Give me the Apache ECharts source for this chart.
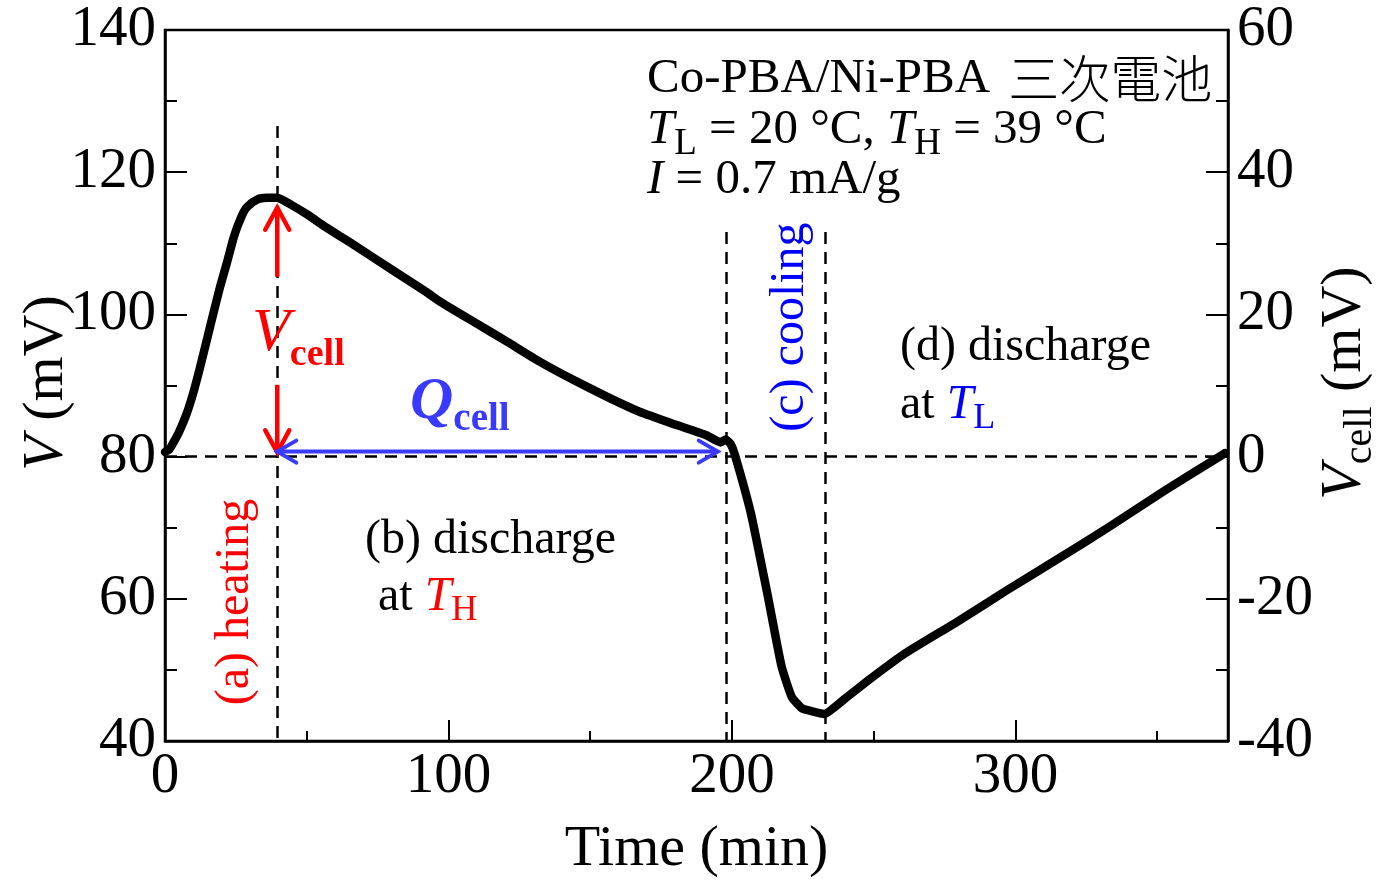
<!DOCTYPE html>
<html>
<head>
<meta charset="utf-8">
<script src="https://cdn.jsdelivr.net/npm/echarts@6/dist/echarts.min.js"></script>
<style>
html, body { margin: 0; padding: 0; background: #fff; }
#chart { width: 1393px; height: 882px; }
</style>
</head>
<body>
<div id="chart"></div>
<script>
// axis ticks
const xTicks = [0, 100, 200, 300]
const xMax = 375
const vTicks = [40, 60, 80, 100, 120, 140]
const vcellTicks = [-40, -20, 0, 20, 40, 60]

// measured curve: time (min) vs cell voltage V (mV)
const timeMin = [0, 1.5, 3, 5, 7.7, 10, 12.4, 15, 17.1, 19.5, 21.8, 24, 25.5, 26.5, 27.5, 28.5, 29.8, 31, 32.3, 33.5, 36, 39.6,
  45, 50, 57, 65, 80, 92, 97, 110, 120.5, 132, 144, 156, 167.4, 180, 191, 196, 197.8, 199.5, 201,
  206.7, 212.7, 217.5, 221.1, 224.7, 228, 232.5,
  240, 249, 261, 280, 297, 315, 333, 353, 374]
const voltage = [80.65, 81, 82, 83.5, 86.1, 89, 92.6, 96.8, 100.2, 104, 107.2, 110.5, 112.3, 113.3, 114.2, 114.9, 115.4, 115.8, 116.1, 116.3, 116.4, 116.4,
  115.3, 114.1, 112.2, 110.2, 106.3, 103.2, 101.8, 98.7, 96.2, 93.4, 90.8, 88.4, 86.3, 84.5, 83.0, 82.0, 82.4, 81.8, 80.3,
  72.0, 60.3, 50.5, 46.2, 44.6, 44.2, 43.8,
  46.0, 48.8, 52.3, 56.9, 61.2, 65.6, 70.1, 75.3, 80.5]

// guide lines
const baseV = 80
const guideTimes = [39.6, 198, 233]
const guideTops = [126.5, 111.6, 111.6]

// annotation arrows
const vcellArrowTime = 39.6
const vcellArrowUp = [105.3, 115.0]
const vcellArrowDown = [90.1, 80.6]
const qcellArrowTimes = [39.6, 195]
const qcellArrowV = 80.7

const serif = 'Liberation Serif'
const RED = '#ff0000'
const BLUE = '#0000ff'
const QBLUE = '#3a3aff'

const chart = echarts.init(document.getElementById('chart'))

const axisLine = { show: true, onZero: false, lineStyle: { color: '#000', width: 2.5 } }
const tickStyle = { color: '#000', width: 2 }
const labelStyle = { fontSize: 57, fontFamily: serif, color: '#000' }

const yAxisBase = (ticks) => ({
  type: 'value',
  min: ticks[0],
  max: ticks[ticks.length - 1],
  interval: ticks[1] - ticks[0],
  axisLine,
  axisTick: { show: true, inside: true, length: 22, lineStyle: tickStyle },
  minorTick: { show: true, splitNumber: 2, length: 12, lineStyle: tickStyle },
  splitLine: { show: false },
  axisLabel: Object.assign({ margin: 9 }, labelStyle)
})

const option = {
  animation: false,
  grid: {
    left: 165, right: 165, top: 30, bottom: 141,
    outerBoundsMode: 'none', containLabel: false,
    show: true, borderColor: '#000', borderWidth: 2.5
  },
  xAxis: [{
    type: 'value',
    min: xTicks[0],
    max: xMax,
    interval: xTicks[1] - xTicks[0],
    axisLine,
    axisTick: { show: true, inside: true, length: 21, lineStyle: tickStyle },
    splitLine: { show: false },
    axisLabel: Object.assign({ margin: 8, formatter: v => xTicks.includes(v) ? String(v) : '' }, labelStyle),
    name: 'Time (min)',
    nameLocation: 'middle',
    nameGap: 80,
    nameTextStyle: { fontSize: 58, fontFamily: serif, color: '#000' }
  }, {
    type: 'value',
    position: 'bottom',
    min: xTicks[0],
    max: xMax,
    interval: (xTicks[1] - xTicks[0]) / 2,
    axisLine: { show: false, onZero: false },
    axisTick: { show: true, inside: true, length: 10, lineStyle: tickStyle },
    axisLabel: { show: false },
    splitLine: { show: false }
  }],
  yAxis: [
    Object.assign(yAxisBase(vTicks), { position: 'left' }),
    Object.assign(yAxisBase(vcellTicks), { position: 'right' })
  ],
  series: [{
    type: 'line',
    name: 'guides',
    data: [],
    z: 1,
    markLine: {
      silent: true,
      z: 1,
      symbol: ['none', 'none'],
      label: { show: false },
      lineStyle: { type: [12, 8], color: '#000', width: 2.5 },
      data: [
        [{ coord: [xTicks[0], baseV] }, { coord: [xMax, baseV] }],
        ...guideTimes.map((t, i) => [{ coord: [t, guideTops[i]] }, { coord: [t, vTicks[0]] }])
      ]
    }
  }, {
    type: 'line',
    name: 'V',
    z: 3,
    xAxisIndex: 0,
    yAxisIndex: 0,
    data: timeMin.map((t, i) => [t, voltage[i]]),
    showSymbol: false,
    smooth: 0.15,
    lineStyle: { color: '#000', width: 8.5, cap: 'round', join: 'round' }
  }]
}

chart.setOption(option)

// arrows drawn from data coordinates through the chart's own scales
const toPx = (t, v) => chart.convertToPixel({ xAxisIndex: 0, yAxisIndex: 0 }, [t, v])

function arrow(from, to, color, width, headLen, headHalf, both) {
  const a = toPx(from[0], from[1])
  const b = toPx(to[0], to[1])
  const len = Math.hypot(b[0] - a[0], b[1] - a[1])
  const ux = (b[0] - a[0]) / len, uy = (b[1] - a[1]) / len
  const nx = -uy, ny = ux
  const head = (p, sx, sy) => ({
    type: 'polyline', z: 20,
    shape: { points: [
      [p[0] - sx * headLen + nx * headHalf, p[1] - sy * headLen + ny * headHalf],
      [p[0], p[1]],
      [p[0] - sx * headLen - nx * headHalf, p[1] - sy * headLen - ny * headHalf]
    ] },
    style: { stroke: color, lineWidth: width, fill: null, lineJoin: 'miter', lineCap: 'round' }
  })
  const els = [{
    type: 'line', z: 20,
    shape: { x1: a[0], y1: a[1], x2: b[0], y2: b[1] },
    style: { stroke: color, lineWidth: width, lineCap: 'butt' }
  }, head(b, ux, uy)]
  if (both) els.push(head(a, -ux, -uy))
  return els
}

const tok = (size, extra) => Object.assign({ fontSize: size, fontFamily: serif, fill: '#000' }, extra)
const sub = (size, pad, extra) => tok(size, Object.assign({ padding: [pad, 0, 0, 0] }, extra))

function label(x, y, text, rich, extra, align) {
  return Object.assign({
    type: 'text', x, y, z: 20,
    style: {
      text, rich: rich || {},
      fontSize: 48, fontFamily: serif, fill: '#000',
      align: align || 'left', verticalAlign: 'middle',
      textAlign: align || 'left', textVerticalAlign: 'middle'
    }
  }, extra || {})
}

const upright = { rotation: Math.PI / 2 }

const graphics = [
  ...arrow([vcellArrowTime, vcellArrowUp[0]], [vcellArrowTime, vcellArrowUp[1]], RED, 4.5, 22, 12),
  ...arrow([vcellArrowTime, vcellArrowDown[0]], [vcellArrowTime, vcellArrowDown[1]], RED, 4.5, 22, 12),
  ...arrow([qcellArrowTimes[0], qcellArrowV], [qcellArrowTimes[1], qcellArrowV], QBLUE, 4, 19, 11, true),

  // axis titles
  label(47, 383, '{i|V}{n| (mV)}', {
    n: tok(58), i: tok(58, { fontStyle: 'italic' })
  }, upright, 'center'),
  label(1345, 383, '{i|V}{s|cell}{n| (mV)}', {
    n: tok(58), i: tok(58, { fontStyle: 'italic' }), s: sub(40, 30)
  }, upright, 'center'),

  label(647, 79, '{n|Co-PBA/Ni-PBA }{j|三次電池}', {
    n: tok(49),
    j: { fontSize: 51, fontFamily: 'Noto Sans CJK JP', fontWeight: 300, fill: '#000', padding: [0, 0, 0, 6] }
  }),
  label(647, 130, '{i|T}{s|L}{n| = 20 °C, }{i|T}{s|H}{n| = 39 °C}', {
    n: tok(49), i: tok(49, { fontStyle: 'italic' }), s: sub(37, 28)
  }),
  label(647, 180, '{i|I}{n| = 0.7 mA/g}', {
    n: tok(49), i: tok(49, { fontStyle: 'italic' })
  }),

  label(252, 334, '{v|V}{c|cell}', {
    v: tok(62, { fontStyle: 'italic', fill: RED }),
    c: sub(38, 42, { fontWeight: 'bold', fill: RED })
  }),
  label(410, 402, '{q|Q}{c|cell}', {
    q: tok(60, { fontStyle: 'italic', fontWeight: 'bold', fill: QBLUE }),
    c: sub(39, 36, { fontWeight: 'bold', fill: QBLUE })
  }),

  label(365, 540, '{n|(b) discharge}', { n: tok(48) }),
  label(378, 597, '{n|at }{i|T}{s|H}', {
    n: tok(48), i: tok(48, { fontStyle: 'italic', fill: RED }), s: sub(36, 28, { fill: RED })
  }),
  label(900, 347, '{n|(d) discharge}', { n: tok(48) }),
  label(900, 405, '{n|at }{i|T}{s|L}', {
    n: tok(48), i: tok(48, { fontStyle: 'italic', fill: BLUE }), s: sub(36, 28, { fill: BLUE })
  }),

  label(235, 602, '{n|(a) heating}', { n: tok(48, { fill: RED }) }, upright, 'center'),
  label(790, 327, '{n|(c) cooling}', { n: tok(48, { fill: BLUE }) }, upright, 'center')
]

chart.setOption({ graphic: graphics })
</script>
</body>
</html>
